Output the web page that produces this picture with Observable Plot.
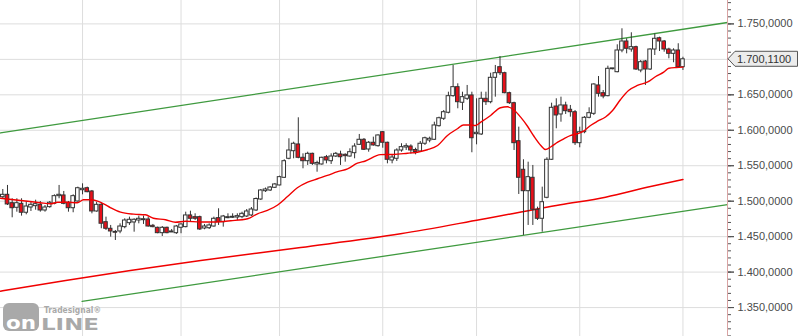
<!DOCTYPE html>
<html><head><meta charset="utf-8">
<script src="https://cdn.jsdelivr.net/npm/d3@7"></script>
<script src="https://cdn.jsdelivr.net/npm/@observablehq/plot@0.6"></script>
<style>html,body{margin:0;padding:0;background:#fff;overflow:hidden}</style>
</head><body><div id="chart"></div>
<script>
// ---- Daily OHLC candles (index 0..145) ----
const opens = [1505.6,1509.0,1497.2,1490.7,1496.3,1483.7,1491.1,1493.0,1494.9,1486.9,1491.6,1496.3,1507.1,1508.1,1497.8,1490.1,1499.6,1515.5,1518.3,1513.7,
1485.5,1494.9,1470.4,1461.1,1456.3,1457.3,1463.4,1469.0,1470.0,1472.8,1473.2,1474.2,1465.3,1462.5,1454.9,1462.5,1457.3,1454.9,1462.5,1463.4,
1479.9,1477.5,1477.5,1461.5,1461.9,1464.3,1476.1,1470.4,1476.1,1476.6,1477.0,1477.5,1478.4,1479.9,1486.9,1502.4,1514.1,1515.1,1518.9,1522.2,
1533.0,1559.8,1570.5,1580.0,1561.2,1556.4,1566.8,1551.8,1551.8,1562.0,1556.4,1563.0,1565.9,1565.4,1563.0,1567.7,1579.5,1586.6,1572.9,1582.4,
1577.6,1597.3,1582.4,1557.4,1559.8,1571.5,1575.7,1577.1,1572.2,1570.1,1581.0,1585.6,1586.6,1605.8,1616.2,1624.7,1648.1,1660.8,1638.8,1644.4,
1649.1,1594.5,1594.1,1644.4,1639.6,1674.0,1689.0,1680.5,1652.3,1638.2,1584.6,1544.3,1514.1,1533.0,1487.9,1475.2,1504.8,1558.4,1633.5,1622.3,
1635.0,1628.9,1625.5,1581.8,1597.3,1617.6,1623.2,1663.2,1652.3,1648.1,1686.1,1681.9,1712.5,1725.2,1713.9,1717.2,1684.3,1697.0,1685.7,1713.9,
1729.8,1725.2,1713.9,1707.8,1712.5,1689.0];
const highs = [1516.5,1522.2,1503.4,1503.4,1503.4,1499.6,1499.6,1501.4,1499.6,1493.9,1499.6,1509.0,1522.2,1513.7,1499.6,1509.0,1519.8,1524.5,1519.8,1515.1,
1498.6,1497.8,1477.5,1465.8,1458.7,1468.1,1475.2,1477.5,1475.2,1478.9,1478.9,1477.5,1467.2,1463.4,1464.3,1463.4,1460.1,1465.8,1468.1,1484.5,
1485.9,1482.2,1478.9,1467.2,1468.1,1477.5,1489.3,1479.9,1482.2,1482.2,1482.2,1484.5,1488.3,1491.1,1504.5,1516.5,1518.6,1520.7,1525.0,1535.3,
1558.4,1588.0,1583.2,1617.6,1566.8,1569.1,1567.7,1556.4,1562.0,1564.5,1566.8,1568.7,1570.5,1566.8,1573.9,1581.0,1594.1,1588.4,1584.2,1590.3,
1593.6,1598.3,1583.2,1564.5,1573.9,1581.0,1581.0,1579.5,1574.7,1584.2,1590.3,1590.3,1611.4,1618.5,1627.9,1653.7,1691.4,1665.5,1653.7,1663.2,
1653.7,1644.4,1653.7,1653.7,1680.5,1691.4,1704.0,1681.9,1653.7,1639.6,1604.4,1558.4,1555.0,1550.4,1491.6,1519.8,1561.2,1638.2,1644.4,1646.7,
1639.6,1635.0,1627.9,1604.4,1619.4,1631.7,1665.5,1675.8,1656.1,1690.4,1687.1,1720.5,1743.1,1729.0,1737.5,1718.6,1698.4,1698.4,1714.9,1736.0,
1731.3,1726.6,1715.7,1714.9,1722.0,1703.0];
const lows = [1503.4,1493.9,1476.6,1484.5,1478.9,1480.8,1485.5,1487.3,1484.5,1484.5,1490.1,1494.9,1503.4,1494.9,1484.5,1483.7,1498.6,1509.0,1511.9,1482.2,
1484.5,1461.1,1458.7,1449.3,1444.6,1454.1,1461.1,1465.8,1456.3,1468.1,1467.2,1463.4,1462.5,1454.1,1450.2,1454.1,1455.9,1453.1,1454.1,1462.5,
1470.4,1472.8,1458.7,1459.7,1460.1,1463.4,1465.8,1463.4,1475.2,1475.6,1472.8,1475.2,1477.0,1478.4,1485.5,1501.0,1512.3,1513.7,1517.9,1521.7,
1532.0,1558.4,1559.8,1559.8,1545.7,1550.4,1550.4,1540.9,1550.8,1552.7,1551.8,1561.6,1550.4,1555.0,1562.0,1559.8,1578.6,1571.5,1569.1,1577.6,
1576.2,1574.7,1552.7,1552.7,1556.0,1569.1,1571.5,1566.3,1565.4,1569.1,1578.6,1582.4,1585.6,1604.4,1613.8,1623.2,1646.7,1630.3,1627.9,1642.0,
1568.3,1579.5,1592.7,1635.0,1637.3,1646.7,1677.3,1651.4,1636.4,1571.5,1509.5,1451.7,1465.8,1465.8,1472.8,1456.3,1503.4,1557.4,1602.1,1611.4,
1622.3,1618.5,1578.6,1575.3,1595.1,1616.2,1620.9,1646.7,1644.4,1647.2,1685.3,1681.1,1709.3,1707.8,1710.1,1684.3,1681.1,1663.2,1684.3,1705.5,
1711.1,1710.1,1700.8,1695.2,1687.5,1684.3];
const closes = [1509.0,1495.4,1490.1,1497.2,1483.7,1492.5,1494.9,1495.8,1486.9,1491.1,1497.8,1507.1,1509.0,1496.3,1490.1,1507.1,1518.3,1517.5,1512.7,1485.5,
1494.9,1468.2,1461.1,1457.3,1455.5,1464.3,1472.8,1473.8,1473.8,1475.2,1474.6,1464.3,1463.4,1454.9,1462.5,1454.9,1455.9,1464.3,1467.2,1479.9,
1475.2,1475.2,1460.1,1464.3,1465.8,1475.2,1470.4,1478.4,1477.5,1478.0,1478.9,1482.2,1485.5,1488.3,1503.1,1515.1,1516.5,1519.3,1523.6,1533.9,
1556.4,1571.5,1581.0,1561.2,1556.4,1566.8,1552.7,1553.9,1561.2,1557.4,1563.0,1566.8,1562.0,1563.5,1569.1,1577.1,1586.6,1572.5,1582.4,1578.6,
1592.7,1582.4,1558.4,1561.6,1571.5,1576.2,1577.6,1571.5,1569.4,1581.0,1588.8,1588.0,1606.8,1617.0,1625.5,1648.1,1660.8,1639.6,1646.7,1649.1,
1588.8,1596.5,1644.4,1639.6,1674.0,1680.5,1680.5,1652.3,1638.2,1581.8,1533.0,1514.1,1533.9,1487.9,1475.2,1498.6,1558.4,1631.7,1620.9,1635.0,
1626.9,1625.5,1581.8,1597.3,1617.6,1624.1,1664.6,1651.4,1647.6,1686.7,1686.7,1712.5,1725.2,1714.9,1717.2,1685.7,1696.0,1685.7,1713.9,1729.0,
1725.2,1713.9,1707.8,1712.5,1689.0,1700.11];

// ---- short moving average (at candle index) ----
const shortMaIdx = [-0.5,3.8,8.0,10.2,11.7,13.8,15.9,17.2,18.7,20.2,21.5,23.0,25.1,27.9,30.4,32.1,34.7,36.8,39.0,42.1,
44.9,48.6,52.2,54.3,56.4,58.6,60.7,62.8,65.0,67.1,69.2,71.4,73.5,75.6,77.3,80.5,83.3,86.3,88.4,90.5,
92.7,94.8,97.0,98.2,99.7,100.8,101.9,104.0,106.1,107.6,108.9,110.4,111.9,113.2,114.7,115.7,116.8,118.3,119.6,121.1,
122.5,123.8,125.3,126.8,128.5,130.0,131.7,133.4,135.3,137.5,139.2,140.9,142.0,143.6,145.0];
const shortMaVal = [1504.2,1501.0,1497.8,1496.3,1498.6,1498.6,1497.8,1502.0,1502.0,1500.0,1496.3,1490.7,1484.5,1481.7,1480.8,1476.0,1473.8,1470.4,1471.8,1470.7,
1470.7,1472.4,1475.2,1482.2,1486.9,1494.7,1506.6,1518.9,1526.8,1531.6,1536.3,1541.6,1545.7,1553.6,1556.7,1565.6,1565.9,1567.7,1569.1,1572.5,
1578.6,1592.7,1602.5,1607.5,1607.5,1606.8,1611.4,1620.9,1631.7,1633.1,1628.9,1618.5,1605.3,1591.9,1578.6,1572.9,1576.4,1583.2,1588.0,1592.7,
1595.1,1598.7,1606.8,1612.8,1618.7,1627.9,1643.4,1656.1,1663.2,1668.1,1675.8,1681.9,1687.5,1688.5,1689.0];

// ---- long moving average ----
const longMaIdx = [-0.5,13.4,27.2,42.2,63.5,84.8,101.9,118.9,128.5,138.1,145.0];
const longMaVal = [1373.1,1388.2,1402.3,1416.4,1434.7,1454.0,1474.2,1495.0,1505.7,1520.7,1530.6];

// ---- trend channel ----
const upperTrendIdx = [-0.5,154.5];
const upperTrendVal = [1596.2,1752.0];
const lowerTrendIdx = [16.9,154.5];
const lowerTrendVal = [1358.6,1495.1];

// ---- axis ----
const priceTicks = [1350,1400,1450,1500,1550,1600,1650,1700,1750];
const labelTicks = [1350,1400,1450,1500,1550,1600,1650,1750]; // 1.700 is covered by the price tag
const minorTicks = d3.range(1310,1790,10);
const monthStarts = [17,38,59,81,101,123,145];
const lastPrice = 1700.11;
const xEnd = 154.5;

const candles = opens.map((o,i)=>({i,o,h:highs[i],l:lows[i],c:closes[i],up:closes[i]>=o}));
const toPts = (xs,ys)=>xs.map((x,k)=>({x,y:ys[k]}));
const loc = d3.formatLocale({decimal:",",thousands:".",grouping:[3],currency:["",""]});
const fmt = loc.format(",.4f");
const FONT = "'Liberation Sans', Arial, sans-serif";

const plot = Plot.plot({
  width:800, height:336, marginLeft:0, marginRight:73, marginTop:0, marginBottom:0,
  x:{domain:[-0.49,xEnd], axis:null},
  y:{domain:[1309.2,1783], axis:null},
  style:{background:"#fff", fontFamily:FONT, fontSize:"11px", color:"#444"},
  marks:[
    Plot.ruleY(priceTicks,{stroke:"#dddddd",strokeWidth:1}),
    Plot.ruleX(monthStarts,{stroke:"#dddddd",strokeWidth:1}),
    Plot.line(toPts(longMaIdx,longMaVal),{x:"x",y:"y",stroke:"#f00000",strokeWidth:1.5,curve:"monotone-x"}),
    Plot.line(toPts(upperTrendIdx,upperTrendVal),{x:"x",y:"y",stroke:"#3f9a3f",strokeWidth:1.3}),
    Plot.line(toPts(lowerTrendIdx,lowerTrendVal),{x:"x",y:"y",stroke:"#3f9a3f",strokeWidth:1.3}),
    Plot.ruleX(candles,{x:"i",y1:"l",y2:"h",stroke:"#333",strokeWidth:1}),
    Plot.rect(candles,{
      x1:d=>d.i-0.38, x2:d=>d.i+0.38,
      y1:d=>Math.min(d.o,d.c), y2:d=>Math.max(d.o,d.c,Math.min(d.o,d.c)+1.2),
      fill:d=>d.up?"#ffffff":"#e8101a", stroke:"#333", strokeWidth:1
    }),
    Plot.line(toPts(shortMaIdx,shortMaVal),{x:"x",y:"y",stroke:"#f00000",strokeWidth:1.4,curve:"monotone-x"}),
    Plot.ruleX([xEnd],{stroke:"#d9a3a3",strokeWidth:1}),
    Plot.axisY({anchor:"right",ticks:minorTicks,tickSize:3,tickFormat:null,text:null,stroke:"#555"}),
    Plot.axisY({anchor:"right",ticks:priceTicks,tickSize:6,text:null,stroke:"#555"}),
    Plot.axisY({anchor:"right",ticks:labelTicks,tickSize:6,tickPadding:4,tickFormat:fmt,stroke:"#555",fill:"#4a4a4a",fontSize:11})
  ]
});
document.getElementById("chart").appendChild(plot);

// last price tag
const svg = d3.select(plot);
const yPos = plot.scale("y").apply(lastPrice);
const xAx = plot.scale("x").apply(xEnd);
const g = svg.append("g").attr("text-anchor","start");
g.append("path")
  .attr("d",`M${xAx+1},${yPos} L${xAx+8},${yPos-7.5} H797.5 V${yPos+7.5} H${xAx+8} Z`)
  .attr("fill","#ececec").attr("stroke","#555").attr("stroke-width",1);
g.append("text").attr("x",xAx+10).attr("y",yPos+4)
  .attr("font-family",FONT).attr("font-size",11).attr("fill","#333")
  .text(fmt(lastPrice));

// logo
const lg = svg.append("g").attr("text-anchor","start");
lg.append("rect").attr("x",3).attr("y",303).attr("width",36).attr("height",28).attr("rx",6).attr("fill","#a9a9a9");
lg.append("text").attr("x",6).attr("y",329).attr("font-family","'DejaVu Sans', sans-serif").attr("font-weight","bold")
  .attr("font-size",17).attr("fill","#fff").attr("textLength",30).attr("lengthAdjust","spacingAndGlyphs").text("on");
lg.append("text").attr("x",41).attr("y",330).attr("font-family","'DejaVu Sans', sans-serif").attr("font-weight","bold")
  .attr("font-size",16).attr("fill","#a9a9a9").attr("textLength",58).attr("lengthAdjust","spacingAndGlyphs").text("LINE");
lg.append("text").attr("x",44).attr("y",313).attr("font-family","'DejaVu Sans', sans-serif").attr("font-weight","bold")
  .attr("font-size",8.5).attr("fill","#a9a9a9").attr("textLength",57).attr("lengthAdjust","spacingAndGlyphs").text("Tradesignal®");
</script>
</body></html>
